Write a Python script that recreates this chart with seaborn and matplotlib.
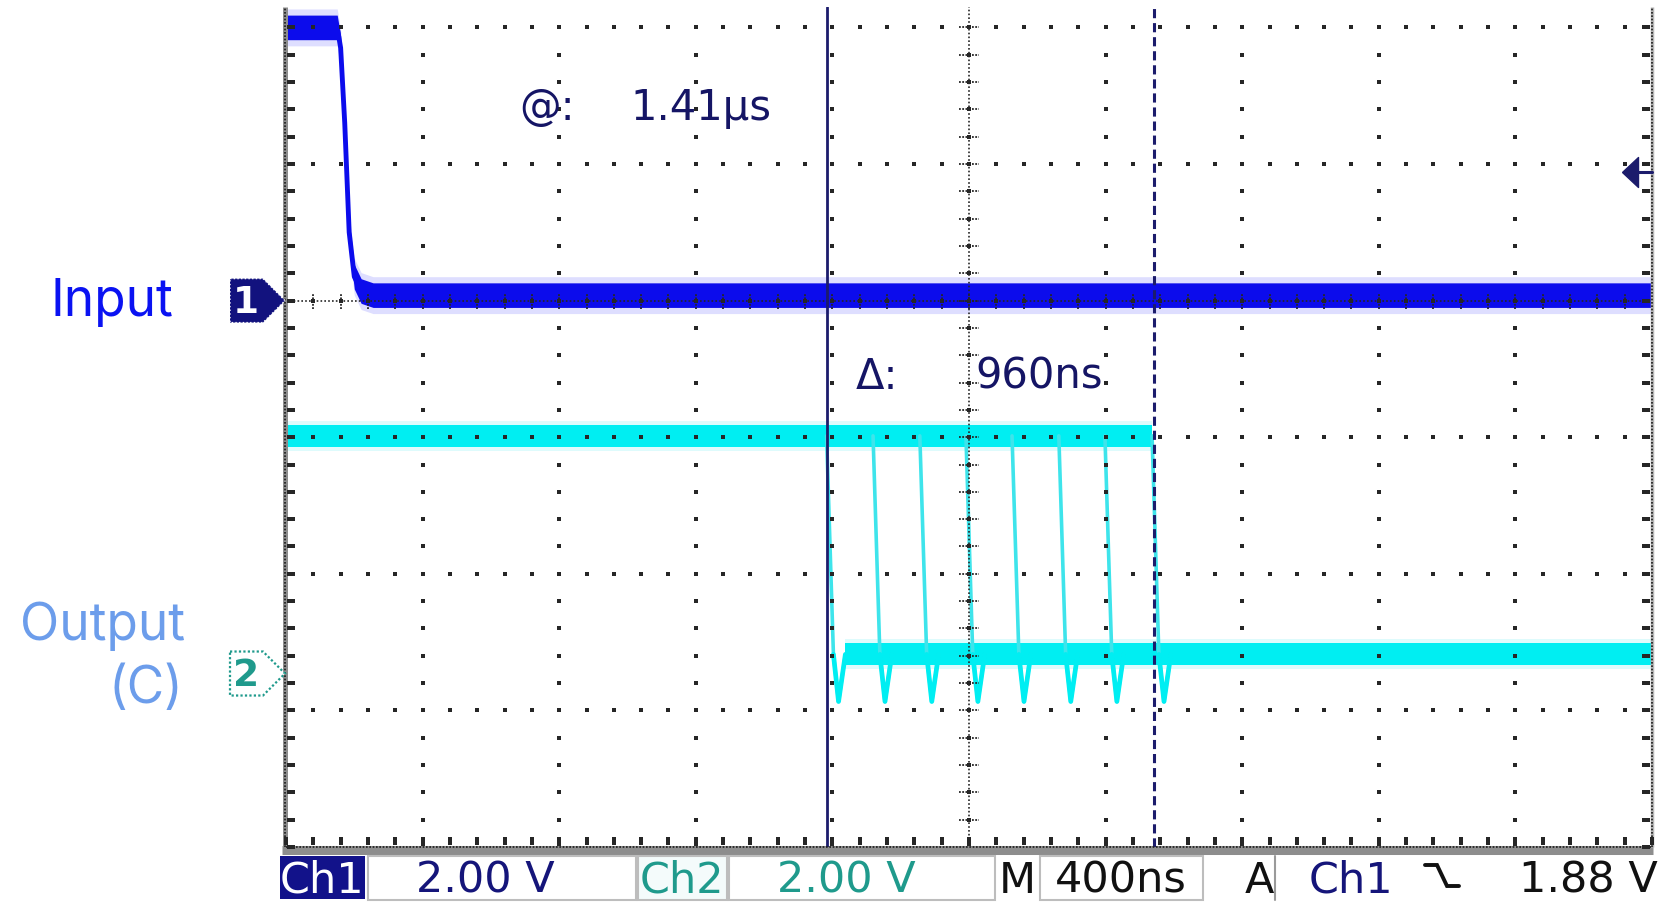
import numpy as np
import pandas as pd
import matplotlib
matplotlib.use("Agg")
import matplotlib.pyplot as plt
import seaborn as sns
from matplotlib.patches import Polygon, Rectangle
from matplotlib.lines import Line2D
from matplotlib.transforms import Affine2D

# ---------------- data ----------------
time_per_div_ns = 400
volts_per_div = 2.0
channel_names = ["Input", "Output\n(C)"]

# Ch1 (Input) trace
input_t_ns = [0, 150, 160, 172, 185, 200, 220, 255, 4000]
input_v = [4.0, 4.0, 3.7, 2.6, 1.0, 0.35, 0.14, 0.08, 0.08]

# Ch2 (Output) persistence: high level, low level, undershoot spike
output_high_v = 3.48
output_low_v = 0.28
output_spike_v = -0.41
output_edge_t_ns = [1583, 1719, 1856, 1991, 2126, 2263, 2398, 2536]
edge_dt_ns = [0, 20, 35, 55]

cursor_at_ns = 1583
cursor_delta_ns = 960
trigger_level_v = 1.88

readout_at = "1.41µs"
readout_delta = "960ns"
status_texts = ["Ch1", "2.00 V", "Ch2", "2.00 V", "M", "400ns", "A", "Ch1", "1.88 V"]

# ---------------- style ----------------
sns.set_style("white")
plt.rcParams["font.family"] = ["DejaVu Sans"]

NAVY = "#1c1c6c"
NAVY_TXT = "#151565"
BLUE = "#0c0cec"
BLUE_HALO = "#6a6aff"
CYAN = "#00eef2"
CYAN_HALO = "#92f4f7"
CYAN_EDGE = "#3ee4eb"
TEAL = "#1f9a8c"
GRID = "#262626"
LABEL_FONT = ["Inter", "Liberation Sans", "DejaVu Sans"]

W, H = 1661, 903
fig = plt.figure(figsize=(W / 100, H / 100), dpi=100)
fig.patch.set_facecolor("white")
T = Affine2D().scale(1.0 / W, -1.0 / H).translate(0, 1.0) + fig.transFigure

AX_L, AX_R, AX_T, AX_B = 286, 1652, 8, 848
ax = fig.add_axes([AX_L / W, (H - AX_B) / H, (AX_R - AX_L) / W, (AX_B - AX_T) / H])
n_div_x = 10
x_max = n_div_x * time_per_div_ns
div_px = (AX_R - AX_L) / n_div_x
y_top = (AX_B - AX_T) / div_px
ax.set_xlim(0, x_max)
ax.set_ylim(0, y_top)
ax.axis("off")
PX_T = time_per_div_ns / div_px   # ns per pixel
PX_Y = 1.0 / div_px               # div per pixel

CH1_OFF = 4.0
CH2_OFF = 1.27

# ---------------- Ch1 trace ----------------
t_in = np.asarray(input_t_ns, float)
y_in = CH1_OFF + np.asarray(input_v) / volts_per_div
ax.fill_between(t_in, y_in - 0.135, y_in + 0.135, color=BLUE_HALO, alpha=0.22, lw=0, zorder=1)
ax.fill_between(t_in, y_in - 0.09, y_in + 0.09, color=BLUE, lw=0, zorder=2)
sns.lineplot(x=t_in, y=y_in, sort=False, estimator=None, color=BLUE, lw=3.5, ax=ax, zorder=3)

# ---------------- Ch2 trace ----------------
hi_y = CH2_OFF + output_high_v / volts_per_div
lo_y = CH2_OFF + output_low_v / volts_per_div
t_hi = np.array([0, output_edge_t_ns[-1]], float)
t_lo = np.array([output_edge_t_ns[0] + edge_dt_ns[-1], x_max], float)
for t_seg, yl in ((t_hi, hi_y), (t_lo, lo_y)):
    ax.fill_between(t_seg, yl - 0.11, yl + 0.11, color=CYAN_HALO, alpha=0.3, lw=0, zorder=1)
    ax.fill_between(t_seg, yl - 0.08, yl + 0.08, color=CYAN, lw=0, zorder=2)

edge_v = [output_high_v, output_low_v, output_spike_v, output_low_v]
rows = []
for i, t0 in enumerate(output_edge_t_ns):
    for k, (dt, v) in enumerate(zip(edge_dt_ns, edge_v)):
        rows.append({"edge": i, "step": k, "t": t0 + dt, "y": CH2_OFF + v / volts_per_div})
edges = pd.DataFrame(rows)
sns.lineplot(data=edges, x="t", y="y", units="edge", estimator=None, sort=False,
             color=CYAN_EDGE, lw=2.6, ax=ax, zorder=3)
sns.lineplot(data=edges[edges["step"] >= 1], x="t", y="y", units="edge", estimator=None,
             sort=False, color=CYAN, lw=3.4, ax=ax, zorder=3)

# ---------------- graticule ----------------
minor_y = np.arange(0, y_top, 0.2)
minor_x = np.arange(0, x_max + 1, time_per_div_ns / 5)
gx = np.arange(1, n_div_x) * time_per_div_ns
gy = np.arange(1, int(y_top) + 1)
X1, Y1 = np.meshgrid(gx, minor_y)
X2, Y2 = np.meshgrid(minor_x[1:-1], gy)
ax.scatter(np.r_[X1.ravel(), X2.ravel()], np.r_[Y1.ravel(), Y2.ravel()],
           s=5, marker="s", color=GRID, lw=0, zorder=5)

xc = x_max / 2
ax.plot([xc, xc], [0, y_top], color=GRID, lw=1.2, ls=(0, (1, 1.3)), zorder=5)
tx, ty = [], []
for yy in minor_y:
    tx += [xc - 10 * PX_T, xc + 10 * PX_T, np.nan]
    ty += [yy, yy, np.nan]
ax.plot(tx, ty, color=GRID, lw=1.3, ls=(0, (1, 0.8)), zorder=5)
yc = CH1_OFF
ax.plot([0, x_max], [yc, yc], color=GRID, lw=1.2, ls=(0, (1, 1.3)), zorder=5)
tx, ty = [], []
for xx in minor_x:
    tx += [xx, xx, np.nan]
    ty += [yc - 8 * PX_Y, yc + 8 * PX_Y, np.nan]
ax.plot(tx, ty, color=GRID, lw=1.3, ls=(0, (1, 0.8)), zorder=5)

# frame
ax.plot([-1.5 * PX_T] * 2, [-2 * PX_Y, y_top], color="#8d8d8d", lw=3.6,
        solid_capstyle="butt", clip_on=False, zorder=6)
ax.plot([-1.5 * PX_T] * 2, [0, y_top], color="#1a1a1a", lw=1.2, ls=(0, (1, 1)),
        clip_on=False, zorder=7)
ax.plot([-4 * PX_T, x_max + 1 * PX_T], [-3 * PX_Y] * 2, color="#8d8d8d", lw=6.5,
        solid_capstyle="butt", clip_on=False, zorder=6)
ax.plot([0, x_max], [0, 0], color="#1a1a1a", lw=1.2, ls=(0, (1, 1)), clip_on=False, zorder=7)
ax.plot([x_max] * 2, [0, y_top], color="#b5b5b5", lw=2.5, solid_capstyle="butt",
        clip_on=False, zorder=6)
ax.plot([x_max] * 2, [0, y_top], color="#1a1a1a", lw=1.2, ls=(0, (1, 1)), clip_on=False, zorder=7)
fx = np.r_[np.full(len(minor_y), 3 * PX_T), np.full(len(minor_y), 7 * PX_T),
           np.full(len(minor_y), x_max - 4 * PX_T), np.full(len(minor_y), x_max - 8 * PX_T),
           minor_x, minor_x]
fy = np.r_[minor_y, minor_y, minor_y, minor_y,
           np.full(len(minor_x), 4 * PX_Y), np.full(len(minor_x), 8 * PX_Y)]
ax.scatter(fx, fy, s=5, marker="s", color=GRID, lw=0, zorder=7, clip_on=False)

# cursors
ax.axvline(cursor_at_ns, color=NAVY, lw=2.0, zorder=6)
ax.axvline(cursor_at_ns + cursor_delta_ns, color=NAVY, lw=2.2, ls=(0, (3.0, 1.6)), zorder=6)

# trigger level arrow
y_trig = CH1_OFF + trigger_level_v / volts_per_div
ax.plot([x_max - 14 * PX_T], [y_trig], marker=[(-16, 0), (0, -15), (0, 15), (-16, 0)],
        ms=23, color=NAVY, lw=0, clip_on=False, zorder=8)
ax.plot([x_max - 14 * PX_T, x_max], [y_trig, y_trig], color=NAVY, lw=2.2,
        clip_on=False, zorder=8)

# readouts
for x, y, s in ((519, 120, "@:"), (630, 120, readout_at), (856, 389, "Δ:"), (975, 389, readout_delta)):
    fig.text(x, y, s, transform=T, fontsize=30, color=NAVY_TXT, va="baseline", ha="left", zorder=9)

# channel markers
py1 = AX_B - CH1_OFF * div_px
py2 = AX_B - CH2_OFF * div_px
fig.add_artist(Polygon([(230, py1 - 22), (263, py1 - 22), (285, py1), (263, py1 + 22), (230, py1 + 22)],
                       closed=True, transform=T, fc="#12127e", ec="white", lw=1.0, ls=":"))
fig.text(246, py1 + 1, "1", transform=T, ha="center", va="center", fontsize=27,
         weight="bold", color="white")
fig.add_artist(Polygon([(230, py2 - 22), (263, py2 - 22), (285, py2), (263, py2 + 22), (230, py2 + 22)],
                       closed=True, transform=T, fc="white", ec=TEAL, lw=1.6, ls=(0, (1, 1))))
fig.text(246, py2 + 1, "2", transform=T, ha="center", va="center", fontsize=27,
         weight="bold", color=TEAL)

# channel labels
fig.text(173, 316, channel_names[0], transform=T, ha="right", va="baseline",
         fontsize=37, family=LABEL_FONT, color="#0a12f2")
out_lines = channel_names[1].split("\n")
fig.text(185, 640, out_lines[0], transform=T, ha="right", va="baseline",
         fontsize=37, family=LABEL_FONT, color="#6c9deb")
fig.text(183, 703, out_lines[1], transform=T, ha="right", va="baseline",
         fontsize=37, family=LABEL_FONT, color="#6c9deb")

# ---------------- status bar ----------------
BOX_EC = "#bdbdbd"
fig.add_artist(Rectangle((280, 857), 85, 43, transform=T, fc="#12128a", ec="none"))
fig.add_artist(Rectangle((368, 857), 268, 44, transform=T, fc="white", ec=BOX_EC, lw=1.5))
fig.add_artist(Rectangle((638, 857), 89, 44, transform=T, fc="#f4fbfb", ec=BOX_EC, lw=1.5))
fig.add_artist(Rectangle((729, 857), 266, 44, transform=T, fc="white", ec=BOX_EC, lw=1.5))
fig.add_artist(Rectangle((1040, 857), 163, 44, transform=T, fc="white", ec=BOX_EC, lw=1.5))
fig.add_artist(Line2D([1275, 1275], [857, 901], transform=T, color="#9a9a9a", lw=1.5))
fig.add_artist(Line2D([1425, 1437, 1447, 1459], [866, 866, 887, 887], transform=T,
                      color="#111111", lw=2.8, solid_joinstyle="miter"))

status_x = [322, 485, 682, 846, 1017, 1121, 1259, 1351, 1588]
status_c = ["white", "#15157a", TEAL, TEAL, "#111111", "#111111", "#111111", "#15157a", "#111111"]
for s, x, c in zip(status_texts, status_x, status_c):
    fig.text(x, 893, s, transform=T, ha="center", va="baseline", fontsize=31, color=c)

fig.savefig("out.png", dpi=100, facecolor="white")
